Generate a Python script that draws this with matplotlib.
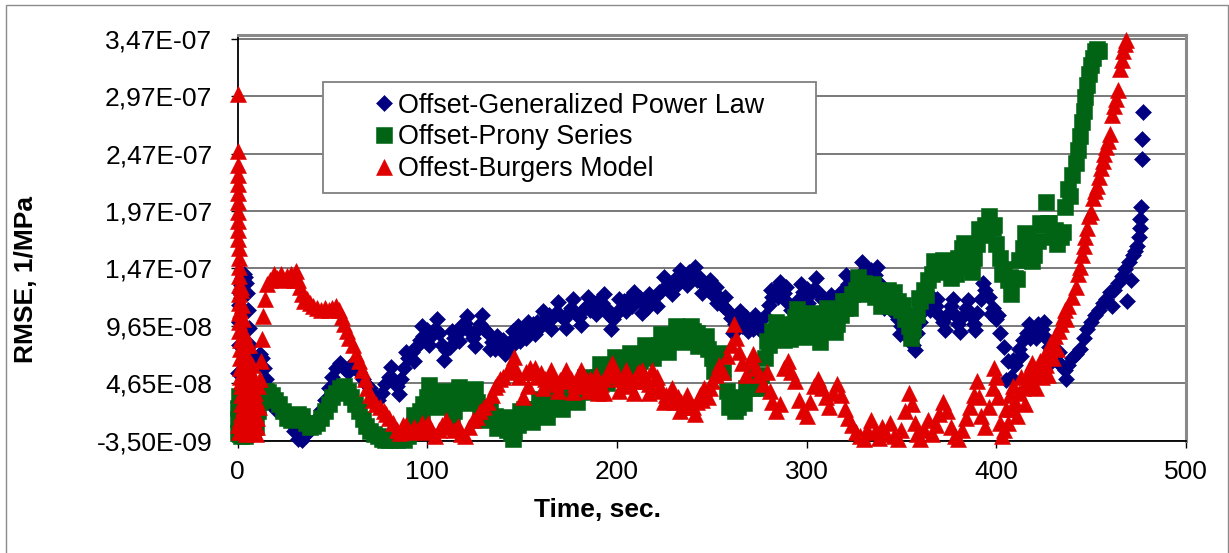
import matplotlib
matplotlib.use('Agg')
import matplotlib.pyplot as plt
from matplotlib.patches import Rectangle
import numpy as np

plt.rcParams['font.family'] = ['Liberation Sans', 'DejaVu Sans']

# RMSE values below are in units of 1e-8 1/MPa
gpl_time = [
    0, 0.2, 0.4, 0.6, 0.8, 1, 1.5, 2, 2.5, 3,
    3.5, 4, 4.5, 5, 5.5, 6, 6.5, 7, 8, 9,
    10, 11, 12, 13, 14, 15, 16, 17, 18, 20,
    22, 24, 26, 28, 30, 32, 34, 36, 38, 40,
    42, 44, 46, 48, 50, 52, 54, 56, 58, 60,
    62, 64, 66, 68, 70, 72, 74, 76, 78, 80,
    82, 84, 86, 88, 90, 92, 94, 96, 98, 100,
    102, 104, 106, 108, 110, 112, 114, 116, 118, 120,
    122, 124, 126, 128, 130, 132, 134, 136, 138, 140,
    142, 144, 146, 148, 150, 152, 154, 156, 158, 160,
    162, 164, 166, 168, 170, 172, 174, 176, 178, 180,
    182, 184, 186, 188, 190, 192, 194, 196, 198, 200,
    202, 204, 206, 208, 210, 212, 214, 216, 218, 220,
    222, 224, 226, 228, 230, 232, 234, 236, 238, 240,
    242, 244, 246, 248, 250, 252, 254, 256, 258, 260,
    262, 264, 266, 268, 270, 272, 274, 276, 278, 280,
    282, 284, 286, 288, 290, 292, 294, 296, 298, 300,
    302, 304, 306, 308, 310, 312, 314, 316, 318, 320,
    322, 324, 326, 328, 330, 332, 334, 336, 338, 340,
    342, 344, 346, 348, 350, 352, 354, 356, 358, 360,
    362, 364, 366, 368, 370, 372, 374, 376, 378, 380,
    382, 384, 386, 388, 390, 392, 394, 396, 398, 400,
    402, 404, 406, 408, 410, 412, 414, 416, 418, 420,
    422, 424, 426, 428, 430, 432, 434, 436, 438, 440,
    442, 444, 446, 448, 450, 452, 454, 456, 458, 460,
    461, 462, 464, 466, 468, 469, 470, 471, 472, 473,
    474, 475, 475.5, 476, 476.3, 476.6, 477, 477.5,
    # spread of the scatter band
    81, 85, 89, 93, 97, 101, 105, 109, 113, 117,
    121, 125, 129, 133, 137, 141, 145, 149, 153, 157,
    161, 165, 169, 173, 177, 181, 185, 189, 193, 197,
    201, 205, 209, 213, 217, 221, 225, 229, 233, 237,
    241, 245, 249, 253, 257, 261, 265, 269, 273, 277,
    281, 285, 289, 293, 297, 301, 305, 309, 313, 317,
    321, 325, 329, 333, 337, 341, 345, 349, 353, 357,
    361, 365, 369, 373, 377, 381, 385, 389, 393, 397,
    401, 405, 409, 413, 417, 421, 425, 429, 433, 437,
]
gpl_rmse = [
    1.0, 3.0, 5.5, 8.0, 10.0, 11.5, 12.5, 13.2, 13.8, 14.0,
    14.2, 13.9, 13.4, 12.5, 11.0, 9.5, 8.0, 7.0, 6.5, 6.2,
    6.5, 7.0, 7.2, 6.8, 6.0, 5.0, 4.0, 3.3, 2.8, 2.4,
    2.2, 2.0, 1.8, 1.2, 0.5, -0.2, -0.3, 0.2, 0.6, 1.0,
    1.6, 2.3, 3.2, 4.2, 5.2, 6.0, 6.4, 6.0, 5.6, 6.2,
    6.0, 5.6, 5.0, 4.6, 4.2, 3.6, 3.2, 3.8, 4.6, 5.2,
    5.0, 4.4, 5.0, 6.0, 6.8, 7.4, 7.8, 8.4, 8.8, 9.3,
    8.8, 9.4, 9.0, 8.0, 7.5, 7.8, 8.6, 9.0, 9.6, 9.9,
    9.2, 8.6, 9.3, 9.8, 9.4, 9.0, 8.2, 7.6, 8.0, 8.4,
    8.0, 7.8, 8.6, 9.6, 9.0, 8.6, 9.4, 9.8, 10.0, 9.6,
    10.2, 10.6, 10.3, 10.8, 10.6, 10.2, 10.8, 11.2, 10.8, 10.4,
    11.0, 11.4, 11.0, 11.6, 11.8, 11.6, 11.2, 10.6, 10.2, 10.8,
    11.2, 11.8, 12.0, 11.4, 11.8, 12.1, 11.6, 11.2, 11.6, 12.2,
    12.6, 12.8, 13.0, 13.2, 13.6, 13.3, 13.8, 14.1, 14.3, 14.0,
    13.6, 13.8, 13.2, 12.8, 12.4, 13.0, 12.2, 11.4, 11.0, 10.3,
    9.8, 10.2, 9.6, 10.4, 10.0, 9.4, 9.8, 9.4, 10.5, 11.5,
    12.2, 12.9, 13.5, 12.5, 11.6, 11.0, 11.4, 12.0, 12.6, 12.9,
    12.4, 12.9, 12.6, 12.0, 11.4, 11.0, 11.6, 12.2, 12.6, 12.9,
    13.3, 13.6, 13.8, 14.1, 14.4, 14.7, 14.5, 14.1, 13.4, 12.6,
    11.8, 11.4, 10.8, 10.2, 9.6, 9.0, 8.6, 8.0, 9.0, 10.0,
    11.0, 11.8, 12.2, 11.4, 10.6, 10.0, 10.6, 11.4, 10.6, 9.8,
    10.4, 11.2, 10.6, 9.8, 10.8, 12.0, 12.8, 12.2, 11.2, 10.2,
    9.0, 7.8, 6.6, 5.2, 6.2, 7.6, 8.4, 9.0, 8.6, 9.4,
    9.8, 9.4, 8.6, 7.8, 7.2, 6.6, 6.2, 5.8, 6.2, 6.8,
    7.2, 7.6, 8.6, 9.4, 10.0, 10.6, 11.0, 11.6, 12.0, 12.6,
    11.4, 12.8, 13.4, 14.0, 14.6, 11.8, 15.2, 13.6, 15.8, 16.2,
    16.6, 17.4, 18.2, 19.0, 20.0, 24.2, 25.9, 28.3,
    6.1, 3.7, 7.4, 6.6, 9.6, 8.0, 10.2, 6.7, 9.2, 8.3,
    10.5, 7.9, 10.6, 7.6, 8.8, 7.2, 9.2, 8.3, 10.0, 8.9,
    10.9, 9.4, 11.7, 9.5, 12.0, 9.7, 12.2, 10.7, 12.4, 9.4,
    12.0, 10.9, 12.6, 10.8, 12.4, 11.4, 13.9, 12.4, 14.5, 13.2,
    14.8, 12.5, 13.6, 11.6, 12.2, 9.0, 10.9, 9.2, 10.6, 9.0,
    12.8, 12.2, 13.0, 10.2, 13.3, 11.6, 13.8, 10.7, 12.3, 11.4,
    14.1, 12.7, 15.2, 13.6, 14.8, 11.2, 12.1, 8.9, 9.8, 7.5,
    11.5, 11.0, 12.0, 9.3, 12.0, 9.1, 11.9, 9.3, 13.4, 10.7,
    10.6, 4.9, 6.7, 7.0, 9.8, 8.6, 10.0, 6.5, 7.4, 5.0,
]

prony_time = [
    0, 0.2, 0.4, 0.6, 0.8, 1, 1.5, 2, 3, 4,
    5, 6, 7, 8, 9, 10, 11, 12, 13, 14,
    15, 16, 18, 20, 22, 24, 26, 28, 30, 32,
    34, 36, 38, 40, 42, 44, 46, 48, 50, 52,
    54, 56, 58, 60, 62, 64, 66, 68, 70, 72,
    74, 76, 78, 80, 82, 84, 86, 88, 90, 92,
    94, 96, 98, 100, 102, 104, 106, 108, 110, 112,
    114, 116, 118, 120, 122, 124, 126, 128, 130, 132,
    134, 136, 138, 140, 142, 144, 146, 148, 150, 152,
    154, 156, 158, 160, 162, 164, 166, 168, 170, 172,
    174, 176, 178, 180, 182, 184, 186, 188, 190, 192,
    194, 196, 198, 200, 202, 204, 206, 208, 210, 212,
    214, 216, 218, 220, 222, 224, 226, 228, 230, 232,
    234, 236, 238, 240, 242, 244, 246, 248, 250, 252,
    254, 256, 258, 260, 262, 264, 266, 268, 270, 272,
    274, 276, 278, 280, 282, 284, 286, 288, 290, 292,
    294, 296, 298, 300, 302, 304, 306, 308, 310, 312,
    314, 316, 318, 320, 322, 324, 326, 328, 330, 332,
    334, 336, 338, 340, 342, 344, 346, 348, 350, 352,
    354, 356, 358, 360, 362, 364, 366, 368, 370, 372,
    374, 376, 378, 380, 382, 384, 386, 388, 390, 392,
    394, 396, 398, 400, 402, 404, 406, 408, 410, 412,
    414, 416, 418, 420, 422, 424, 426, 428, 430, 432,
    434, 436, 438, 440, 442, 443, 444, 445, 446, 447,
    448, 449, 450, 451, 452, 453, 454,
    # spread of the scatter band
    93, 97, 101, 105, 109, 113, 117, 121, 125, 129,
    133, 137, 141, 145, 149,
    151, 155, 159, 163, 167, 171, 175, 179, 183, 187,
    191, 195, 199, 203, 207, 211, 215, 219, 223, 227,
    231, 235, 239, 243, 247, 251, 255, 259, 263, 267,
    271, 275, 279, 283, 287, 291, 295, 299, 303, 307,
    311, 315, 319, 323, 327, 331, 335, 339, 343, 347,
    351, 355, 359, 363, 367, 371, 375, 379, 383, 387,
    391, 395, 399, 403, 407, 411, 415, 419, 423, 427,
    431, 435, 439,
]
prony_rmse = [
    0.3, 1.5, 2.5, 3.5, 2.0, 0.8, 0.2, 0.0, 0.2, 0.0,
    0.3, 0.5, 0.6, 0.5, 0.8, 1.0, 2.2, 3.0, 3.6, 4.0,
    4.0, 3.9, 3.6, 3.2, 2.8, 2.2, 1.6, 1.4, 1.6, 2.0,
    1.8, 1.2, 0.8, 0.9, 1.2, 1.6, 2.2, 2.8, 3.4, 3.8,
    4.2, 4.4, 4.0, 3.4, 2.8, 2.2, 1.5, 0.9, 0.5, 0.2,
    0.0, -0.2, -0.3, -0.3, -0.2, -0.3, -0.2, -0.3, 0.0, 0.6,
    1.4, 2.2, 2.8, 3.4, 3.8, 3.6, 3.4, 3.0, 3.2, 3.0,
    2.2, 3.0, 3.8, 4.0, 3.6, 3.4, 3.0, 2.6, 2.0, 1.6,
    1.6, 1.8, 1.4, 1.0, 0.6, 0.3, 0.4, 1.0, 1.6, 1.4,
    2.0, 2.4, 2.2, 2.6, 2.4, 2.8, 3.0, 2.8, 3.2, 3.4,
    3.2, 3.6, 3.8, 4.0, 4.2, 4.4, 4.6, 5.0, 5.2, 5.6,
    5.4, 5.8, 6.0, 6.0, 6.2, 6.4, 6.2, 6.6, 6.8, 6.6,
    7.0, 7.2, 7.6, 7.8, 8.0, 8.0, 8.2, 8.4, 8.6, 8.8,
    9.0, 9.2, 9.4, 9.2, 9.0, 8.6, 8.2, 7.6, 6.8, 6.4,
    7.2, 5.6, 4.0, 3.0, 2.2, 2.6, 3.4, 4.2, 4.6, 4.2,
    4.8, 5.4, 6.8, 8.0, 9.2, 10.0, 9.2, 8.4, 9.0, 9.8,
    10.4, 10.0, 9.4, 9.8, 10.2, 9.6, 8.8, 9.4, 10.0, 10.6,
    10.2, 9.8, 10.6, 11.2, 11.8, 12.4, 12.8, 13.2, 13.4, 13.2,
    12.6, 12.2, 12.6, 12.0, 11.6, 12.2, 12.6, 11.8, 11.0, 10.2,
    9.6, 9.4, 10.6, 11.8, 12.8, 13.6, 14.2, 14.6, 15.0, 15.4,
    14.6, 13.8, 14.6, 15.6, 16.4, 15.6, 14.8, 15.6, 16.8, 17.6,
    18.4, 19.2, 18.2, 16.8, 15.6, 14.6, 13.6, 12.4, 13.8, 15.4,
    16.4, 17.2, 16.6, 15.8, 17.0, 18.4, 20.4, 18.6, 17.4, 16.8,
    17.4, 20.0, 21.6, 22.8, 23.8, 25.0, 26.2, 27.4, 28.4, 29.6,
    30.6, 31.6, 32.4, 33.0, 33.6, 33.8, 33.6,
    1.9, 1.6, 4.5, 2.6, 4.0, 1.7, 4.3, 2.9, 4.1, 1.4,
    2.5, 0.7, 1.7, -0.2, 2.2,
    2.4, 1.3, 3.3, 1.7, 3.8, 2.4, 4.3, 3.0, 5.2, 3.9,
    6.3, 4.7, 6.9, 5.4, 7.3, 5.8, 8.0, 6.8, 8.9, 7.4,
    9.6, 8.2, 9.6, 7.9, 8.8, 5.7, 7.3, 2.6, 3.3, 2.9,
    5.3, 4.2, 8.3, 8.7, 9.7, 8.5, 11.1, 8.7, 10.8, 8.2,
    11.2, 9.1, 11.8, 11.2, 13.9, 12.4, 13.3, 11.4, 12.8, 11.3,
    11.5, 8.6, 12.1, 12.3, 15.3, 14.3, 15.1, 14.2, 16.9, 14.3,
    18.1, 17.9, 18.4, 14.2, 13.9, 13.7, 17.7, 15.3, 18.6, 18.6,
    18.0, 17.8, 21.0,
]

burgers_time = [
    0, 0.05, 0.1, 0.15, 0.2, 0.25, 0.3, 0.35, 0.4, 0.45,
    0.5, 0.55, 0.6, 0.65, 0.7, 0.75, 0.8, 0.85, 0.9, 0.95,
    1, 1.1, 1.2, 1.3, 1.4, 1.5, 1.6, 1.7, 1.8, 1.9,
    2, 2.2, 2.5, 2.8, 3, 3.3, 3.5, 3.8, 4, 4.3,
    4.5, 4.8, 5, 5.5, 6, 6.5, 7, 7.5, 8, 8.5,
    1.2, 1.8, 2.4, 3.2, 3.6, 4.2, 5.2, 5.8, 6.2, 7.2,
    7.8, 8.8, 9.2, 10.2, 11.5, 0.5, 1.0, 1.5, 2.0, 3.0,
    9, 9.5, 10, 10.5, 11, 12, 12.5, 13, 13.5, 14.5,
    15.5, 17, 19, 21, 23, 24, 26, 28, 30, 31,
    32, 33, 34, 35, 36.5, 38, 40, 42, 44, 46,
    48, 50, 52, 53.5, 55, 56, 57.5, 59, 61, 62.5,
    64, 65.5, 67, 68.5, 70, 71.5, 73, 75, 77, 78.5,
    80, 82, 84, 85.5, 87, 89, 91, 93, 95, 97,
    99, 100.5, 102, 104, 106, 108, 110, 112, 114, 116,
    118, 120, 122, 124, 126, 128, 130, 132, 134, 135.5,
    137, 138.5, 140, 142, 144, 145.5, 147, 148.5, 150.5, 152,
    154, 156, 158, 160, 162, 164, 166, 168, 170, 172,
    174, 176, 178, 180.5, 182, 184, 186, 188, 190, 191.5,
    193, 195, 197.5, 199, 201, 203, 205, 207, 209, 211,
    213, 215, 217, 218.5, 220, 222, 224, 226, 228, 230,
    232, 234, 236, 238, 240, 242, 244, 246, 248, 250,
    252, 254, 256, 258, 260, 261.5, 263, 264.5, 266, 268,
    270, 272, 273.5, 275, 277, 279, 280.5, 282, 284, 286,
    288, 290, 292, 294, 296, 298, 300, 302, 304, 306,
    308, 310, 312, 314, 316, 318, 320, 322, 324, 326,
    328, 330, 332, 334, 336, 338, 340, 342, 344, 346,
    348, 350, 352, 354, 355.5, 357, 358, 360, 362, 364,
    366, 368, 370, 372, 374, 376, 378, 380, 382, 384,
    386, 388, 390, 391, 392, 394, 396, 398, 399, 400,
    401, 402, 403, 404, 405, 406, 407, 408, 409, 410,
    411, 412, 413, 414, 415, 416, 417, 418, 419, 420,
    421, 422, 423, 424, 425, 426, 427, 428, 429, 430,
    431, 432, 433, 434, 435, 436, 437, 438, 440, 442,
    443, 444, 445, 446, 447, 448, 449, 450, 451, 452,
    453, 454, 455, 456, 457, 458, 459, 460, 461, 462,
    463, 464, 465, 466, 467, 468, 468.5,
    # spread of the scatter band
    153, 157, 161, 165, 169, 173, 177, 181, 185, 189,
    193, 197, 201, 205, 209, 213, 217, 221, 225, 229,
    233, 237, 241, 245, 249,
]
burgers_rmse = [
    29.9, 24.9, 23.7, 22.8, 22.0, 21.2, 20.4, 19.6, 18.8, 18.0,
    17.2, 16.4, 15.6, 14.8, 14.0, 13.2, 12.4, 11.6, 10.8, 10.0,
    9.2, 8.4, 7.6, 6.8, 6.0, 5.2, 4.4, 3.6, 2.8, 2.0,
    12.8, 0.5, 11.5, 2.5, 10.2, 1.0, 9.0, 4.0, 8.0, 0.2,
    7.2, 3.0, 6.6, 1.8, 6.0, 0.6, 5.4, 2.6, 4.6, 1.2,
    11.0, 13.0, 7.0, 5.5, 2.0, 6.0, 4.0, 8.0, 3.0, 1.0,
    6.2, 5.0, 2.0, 0.8, 2.6, 1.0, 0.4, 1.5, 4.8, 7.0,
    3.8, 0.2, 3.2, 1.6, 4.4, 5.0, 6.6, 8.5, 10.5, 12.0,
    13.3, 13.6, 14.2, 13.8, 14.2, 13.6, 14.0, 14.2, 13.6, 14.4,
    13.6, 13.0, 12.4, 11.8, 12.0, 11.6, 11.4, 11.2, 11.0, 11.2,
    11.0, 11.2, 11.4, 11.0, 10.4, 9.8, 9.2, 8.6, 8.0, 7.2,
    6.6, 5.8, 5.0, 4.2, 3.6, 3.2, 2.8, 2.6, 2.2, 2.0,
    1.6, 1.2, 0.6, 0.3, 1.0, 1.0, 0.4, 0.8, 0.6, 1.2,
    0.4, 1.2, 0.6, 0.0, 0.6, 1.0, 1.4, 0.8, 0.6, 0.9,
    0.2, 0.0, 0.8, 1.4, 1.7, 2.2, 2.6, 3.0, 3.6, 4.3,
    4.6, 5.0, 5.2, 5.6, 6.2, 6.9, 5.8, 5.2, 3.4, 5.6,
    6.0, 5.6, 5.2, 5.5, 5.0, 4.8, 5.2, 4.6, 4.9, 5.4,
    4.8, 5.0, 4.6, 5.2, 4.4, 4.8, 5.0, 4.4, 3.8, 4.6,
    5.0, 5.4, 6.4, 5.6, 5.0, 4.6, 5.2, 4.4, 4.8, 5.6,
    4.8, 5.2, 4.6, 5.8, 5.0, 4.2, 4.0, 3.6, 3.4, 3.0,
    3.4, 3.0, 2.6, 3.0, 2.6, 3.0, 3.6, 4.2, 3.4, 4.8,
    5.4, 6.2, 5.6, 7.0, 8.0, 9.8, 8.6, 7.4, 6.4, 5.4,
    6.6, 7.2, 6.0, 5.4, 4.6, 5.6, 4.0, 3.0, 2.2, 2.8,
    6.0, 6.6, 5.6, 4.8, 3.2, 2.2, 1.8, 3.0, 4.4, 5.0,
    4.2, 3.4, 2.6, 3.8, 4.6, 3.6, 2.4, 1.6, 1.0, 0.4,
    0.0, -0.2, 0.6, 1.4, 0.4, -0.1, 0.8, 0.2, 1.2, 0.0,
    -0.2, 0.6, 2.2, 3.8, 2.8, 1.2, 0.2, -0.2, 0.6, 1.4,
    0.2, 1.0, 2.0, 3.0, 2.2, 0.8, 0.0, -0.2, 0.6, 1.6,
    2.6, 3.6, 4.8, 3.4, 1.8, 0.8, 2.6, 4.2, 6.0, 5.2,
    3.4, 1.2, 0.0, 0.6, 2.4, 1.2, 3.6, 2.4, 4.4, 3.0,
    1.8, 3.8, 5.2, 4.2, 2.8, 4.6, 5.8, 4.6, 6.4, 5.4,
    4.2, 5.8, 6.6, 5.2, 7.0, 6.2, 5.4, 7.6, 8.2, 6.8,
    8.8, 7.6, 9.2, 9.8, 10.4, 11.0, 10.2, 11.4, 12.2, 13.0,
    14.2, 14.8, 15.8, 16.6, 17.4, 18.2, 19.2, 19.6, 20.8, 21.4,
    21.8, 22.6, 23.4, 24.0, 24.6, 25.2, 25.8, 26.4, 28.0, 28.8,
    29.4, 30.2, 32.0, 32.8, 33.6, 34.2, 34.6,
    4.4, 6.0, 4.2, 5.8, 4.0, 5.8, 3.9, 5.8, 4.0, 5.4,
    3.8, 6.0, 4.0, 5.8, 3.8, 5.8, 3.8, 5.2, 3.0, 4.2,
    2.2, 3.6, 2.0, 3.2, 4.2,
]

ytick_values = [-3.5e-9, 4.65e-8, 9.65e-8, 1.465e-7, 1.965e-7, 2.465e-7, 2.965e-7, 3.465e-7]
ytick_labels = ['-3,50E-09', '4,65E-08', '9,65E-08', '1,47E-07',
                '1,97E-07', '2,47E-07', '2,97E-07', '3,47E-07']
xtick_values = [0, 100, 200, 300, 400, 500]

W, H = 1229, 553
fig = plt.figure(figsize=(W / 100, H / 100), dpi=100)
ax = fig.add_axes([237.5 / W, 1 - 440.5 / H, 948.5 / W, 405.5 / H])

series = [
    (gpl_time, gpl_rmse, 'D', 8.2, '#000080', 'Offset-Generalized Power Law'),
    (prony_time, prony_rmse, 's', 11.0, '#006414', 'Offset-Prony Series'),
    (burgers_time, burgers_rmse, '^', 11.0, '#E00000', 'Offest-Burgers Model'),
]
for t, v, mk, ms, col, name in series:
    ax.plot(np.array(t), np.array(v) * 1e-8, ls='none', marker=mk, ms=ms,
            color=col, mec=col, mew=0.4, clip_on=False, zorder=3, label=name)

ax.set_xlim(0, 500)
ax.set_ylim(-3.5e-9, 3.5e-7)
ax.set_xticks(xtick_values)
ax.set_yticks(ytick_values)
ax.set_yticklabels(ytick_labels)
ax.tick_params(direction='out', length=5, width=1, labelsize=19, colors='black')
ax.tick_params(axis='y', pad=13)
ax.tick_params(axis='x', pad=9)

ax.set_axisbelow(True)
ax.yaxis.grid(True, color='#555555', lw=1.1)
for side in ['left', 'bottom']:
    ax.spines[side].set_color('black')
    ax.spines[side].set_linewidth(1.3)
for side in ['top', 'right']:
    ax.spines[side].set_color('#8a8a8a')
    ax.spines[side].set_linewidth(2.2)

ax.set_xlabel('Time, sec.', fontsize=19, fontweight='bold', va='center')
ax.xaxis.set_label_coords(0.380, -0.171)
ax.set_ylabel('RMSE, 1/MPa', fontsize=19, fontweight='bold', va='center')
ax.yaxis.set_label_coords(-0.223, 0.396)

# legend box is wider than its content, so draw the frame separately
ax.add_patch(Rectangle((323 / W, 1 - 193 / H), 493 / W, 111 / H, transform=fig.transFigure,
                       facecolor='white', edgecolor='#808080', lw=1.3, zorder=4))
ax.legend(loc='center left', bbox_to_anchor=(377.4 / W, 1 - 137.5 / H),
          bbox_transform=fig.transFigure, frameon=False, borderpad=0, borderaxespad=0,
          handlelength=0.5, handletextpad=0.25, labelspacing=0.22, fontsize=19.4,
          numpoints=1)

# outer chart border
fig.add_artist(Rectangle((6 / W, -0.01), 1222 / W, 1.01 - 5 / H, transform=fig.transFigure,
                         fill=False, edgecolor='#8a8a8a', lw=1))

fig.savefig('out.png', dpi=100)
